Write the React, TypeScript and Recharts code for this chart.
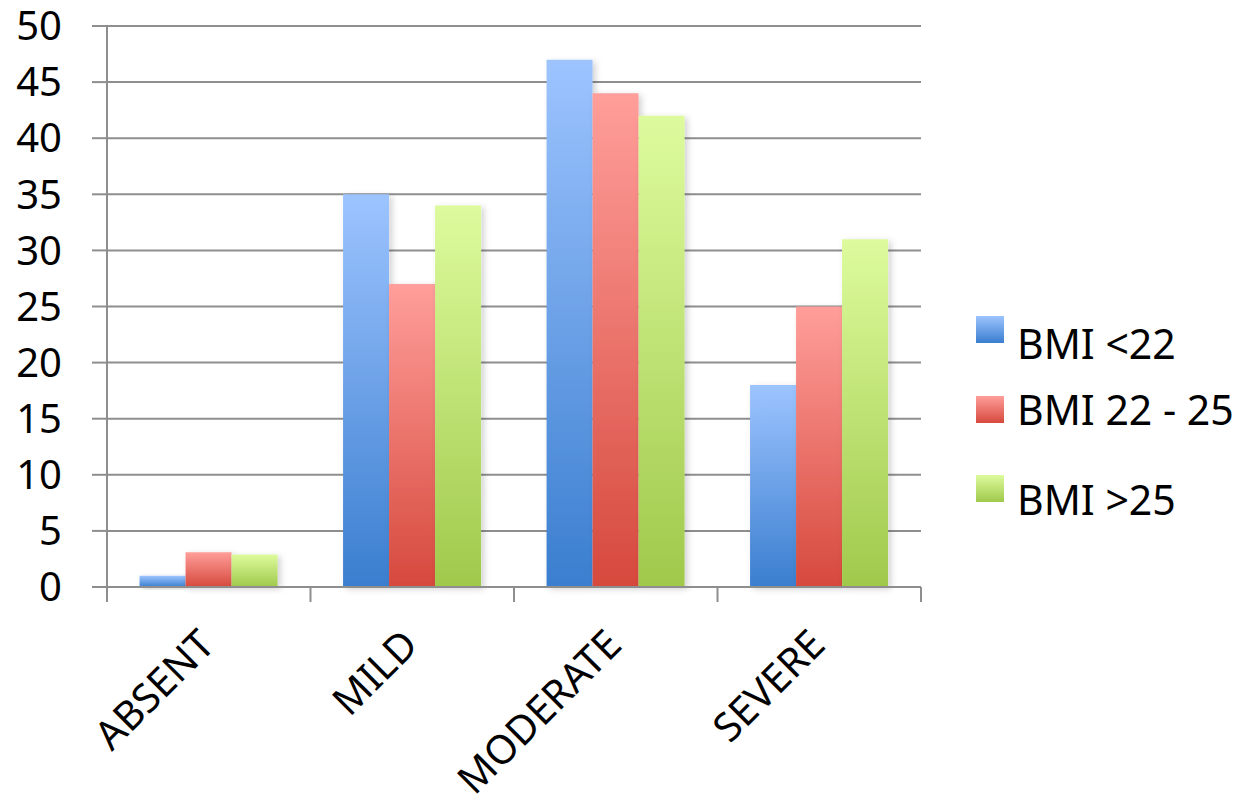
import React from "react";
import {
  BarChart,
  Bar,
  XAxis,
  YAxis,
  CartesianGrid,
  Legend,
} from "recharts";

const categories = ["ABSENT", "MILD", "MODERATE", "SEVERE"];
const bmiUnder22 = [1, 35, 47, 18];
const bmi22to25 = [3.1, 27, 44, 25];
const bmiOver25 = [2.9, 34, 42, 31];
const seriesNames = ["BMI <22", "BMI 22 - 25", "BMI >25"];
const yTicks = [0, 5, 10, 15, 20, 25, 30, 35, 40, 45, 50];

const W = 1242;
const H = 805;
const PLOT_LEFT = 107;
const PLOT_RIGHT = 921;
const PLOT_TOP = 26;
const PLOT_BOTTOM = 587;
const BAND = (PLOT_RIGHT - PLOT_LEFT) / categories.length;

const GRID = "#8e8e8e";
const FONT = "'Noto Sans', sans-serif";

const data = categories.map((c, i) => ({
  cat: c,
  a: bmiUnder22[i],
  b: bmi22to25[i],
  c: bmiOver25[i],
}));

const GRADS = [
  { id: "gBlue", top: "#9dc4ff", bottom: "#3a7ecf" },
  { id: "gRed", top: "#ff9e9a", bottom: "#d6493d" },
  { id: "gGreen", top: "#ddfb9d", bottom: "#a0c94b" },
];

function CategoryTick(props: any) {
  const { x, y, payload, index } = props;
  const ax = x + 8;
  const ay = y + 60;
  return (
    <g>
      <line x1={x - BAND / 2} x2={x - BAND / 2} y1={y} y2={y + 15} stroke={GRID} strokeWidth={2} />
      {index === categories.length - 1 && (
        <line x1={x + BAND / 2} x2={x + BAND / 2} y1={y} y2={y + 15} stroke={GRID} strokeWidth={2} />
      )}
      <text
        x={ax}
        y={ay}
        textAnchor="end"
        fontSize={40}
        fontFamily={FONT}
        fill="#000"
        transform={`rotate(-45, ${ax}, ${ay})`}
      >
        {payload.value}
      </text>
    </g>
  );
}

// legend rows sit unevenly in the original
const LEGEND_ROWS = [
  { sq: 316, base: 359 },
  { sq: 396, base: 425 },
  { sq: 475, base: 515 },
];

function LegendBox() {
  // keep series order (recharts sorts payload by name otherwise)
  return (
    <svg width={W} height={H} style={{ display: "block" }}>
      <defs>
        {GRADS.map((g) => (
          <linearGradient key={g.id} id={g.id + "L"} x1="0" y1="0" x2="0" y2="1">
            <stop offset="0%" stopColor={g.top} />
            <stop offset="100%" stopColor={g.bottom} />
          </linearGradient>
        ))}
      </defs>
      {seriesNames.map((name, i) => (
        <g key={name}>
          <rect x={976} y={LEGEND_ROWS[i].sq} width={28} height={27} fill={`url(#${GRADS[i].id}L)`} />
          <text x={1017} y={LEGEND_ROWS[i].base} fontSize={41} fontFamily={FONT} fill="#000">
            {name}
          </text>
        </g>
      ))}
    </svg>
  );
}

export default function App() {
  return (
    <div style={{ position: "absolute", left: 0, top: 0, width: W, height: H, background: "#fff", fontFamily: FONT }}>
      <BarChart
        width={W}
        height={H}
        data={data}
        margin={{ top: PLOT_TOP, right: W - PLOT_RIGHT, left: 0, bottom: 0 }}
        barCategoryGap="16%"
        barGap={0}
      >
        <defs>
          {GRADS.map((g) => (
            <linearGradient key={g.id} id={g.id} x1="0" y1="0" x2="0" y2="1">
              <stop offset="0%" stopColor={g.top} />
              <stop offset="100%" stopColor={g.bottom} />
            </linearGradient>
          ))}
          <filter id="barShadow" x="-20%" y="-20%" width="150%" height="140%">
            <feDropShadow dx="3" dy="2" stdDeviation="3" floodColor="#000" floodOpacity="0.18" />
          </filter>
        </defs>
        <CartesianGrid vertical={false} stroke={GRID} strokeWidth={2} />
        <XAxis
          dataKey="cat"
          height={H - PLOT_BOTTOM}
          axisLine={{ stroke: GRID, strokeWidth: 2 }}
          tickLine={false}
          tickSize={0}
          tickMargin={0}
          interval={0}
          tick={<CategoryTick />}
        />
        <YAxis
          width={PLOT_LEFT}
          domain={[0, 50]}
          ticks={yTicks}
          interval={0}
          axisLine={{ stroke: GRID, strokeWidth: 2 }}
          tickLine={{ stroke: GRID, strokeWidth: 2 }}
          tickSize={15}
          tickMargin={30}
          tick={{ fill: "#000", fontSize: 40, fontFamily: FONT }}
        />
        <Legend
          layout="vertical"
          align="center"
          verticalAlign="middle"
          wrapperStyle={{ left: 0, top: 0, width: W, height: H, pointerEvents: "none" }}
          content={<LegendBox />}
        />
        <Bar dataKey="a" name={seriesNames[0]} fill="url(#gBlue)" filter="url(#barShadow)" isAnimationActive={false} />
        <Bar dataKey="b" name={seriesNames[1]} fill="url(#gRed)" filter="url(#barShadow)" isAnimationActive={false} />
        <Bar dataKey="c" name={seriesNames[2]} fill="url(#gGreen)" filter="url(#barShadow)" isAnimationActive={false} />
      </BarChart>
    </div>
  );
}
